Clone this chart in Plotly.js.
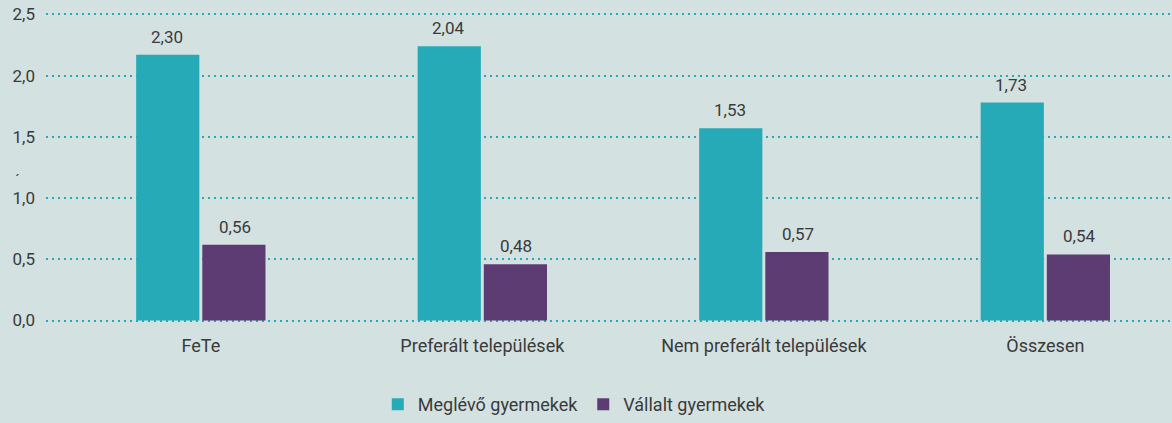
<!DOCTYPE html>
<html>
<head>
<meta charset="utf-8">
<script src="https://cdn.plot.ly/plotly-3.0.1.min.js"></script>
<style>
html,body{margin:0;padding:0;background:#d3e1e1;}
#chart{width:1172px;height:423px;}
</style>
</head>
<body>
<div id="chart"></div>
<script>
var categories = ["FeTe", "Preferált települések", "Nem preferált települések", "Összesen"];
var seriesNames = ["Meglévő gyermekek", "Vállalt gyermekek"];
var meglevoValues = [2.17, 2.24, 1.57, 1.78];
var vallaltValues = [0.62, 0.46, 0.56, 0.54];
var meglevoLabels = ["2,30", "2,04", "1,53", "1,73"];
var vallaltLabels = ["0,56", "0,48", "0,57", "0,54"];
var yTickValues = [0, 0.5, 1, 1.5, 2, 2.5];
var yTickLabels = ["0,0", "0,5", "1,0", "1,5", "2,0", "2,5"];

var txtColor = "#3a3a3a";
var fontFam = "Roboto, 'DejaVu Sans', sans-serif";
var fs = 17;
var fsBig = 18;
var barShift = 34; // px from category centre to each bar centre
var labelLift = 18; // px from bar top to label centre

var traces = [
  {
    type: "bar", name: seriesNames[0], x: categories, y: meglevoValues,
    marker: {color: "#26aab7"}, hoverinfo: "skip"
  },
  {
    type: "bar", name: seriesNames[1], x: categories, y: vallaltValues,
    marker: {color: "#5c3c73"}, hoverinfo: "skip"
  }
];

var annotations = [];
function addLabels(values, labels, shift) {
  for (var i = 0; i < categories.length; i++) {
    annotations.push({
      x: categories[i], y: values[i], xref: "x", yref: "y",
      text: labels[i], showarrow: false,
      xshift: shift, yshift: labelLift, yanchor: "middle", xanchor: "center",
      font: {size: fs, color: txtColor, family: fontFam}
    });
  }
}
addLabels(meglevoValues, meglevoLabels, -barShift);
addLabels(vallaltValues, vallaltLabels, barShift);
annotations.push({xref: "paper", yref: "paper", x: -0.025, y: 0.46, text: "´", showarrow: false,
  font: {size: 15, color: txtColor, family: fontFam}, xanchor: "center"});

var layout = {
  width: 1172, height: 423,
  paper_bgcolor: "#d3e1e1", plot_bgcolor: "#d3e1e1",
  margin: {l: 46, r: 0, t: 13, b: 101},
  font: {family: fontFam, color: txtColor, size: fs},
  barmode: "group", bargap: 0.53, bargroupgap: 0.045,
  showlegend: true,
  legend: {
    orientation: "h", xref: "container", x: 0.49, xanchor: "center",
    yref: "container", y: -0.012, yanchor: "bottom",
    font: {size: fsBig, color: txtColor, family: fontFam},
    bgcolor: "rgba(0,0,0,0)", traceorder: "normal"
  },
  xaxis: {
    type: "category", range: [-0.55, 3.45],
    showgrid: false, zeroline: false, showline: false,
    ticks: "", ticklabelstandoff: 11,
    tickfont: {size: fsBig, color: txtColor, family: fontFam}
  },
  yaxis: {
    range: [-0.012, 2.512], tickvals: yTickValues, ticktext: yTickLabels,
    showgrid: true, gridcolor: "#26aab7", gridwidth: 2, griddash: "2px,4px",
    zeroline: false, showline: false, ticks: "",
    ticklabelstandoff: 10,
    tickfont: {size: fs, color: txtColor, family: fontFam}
  },
  annotations: annotations
};

Plotly.newPlot("chart", traces, layout, {displayModeBar: false, staticPlot: true});
</script>
</body>
</html>
